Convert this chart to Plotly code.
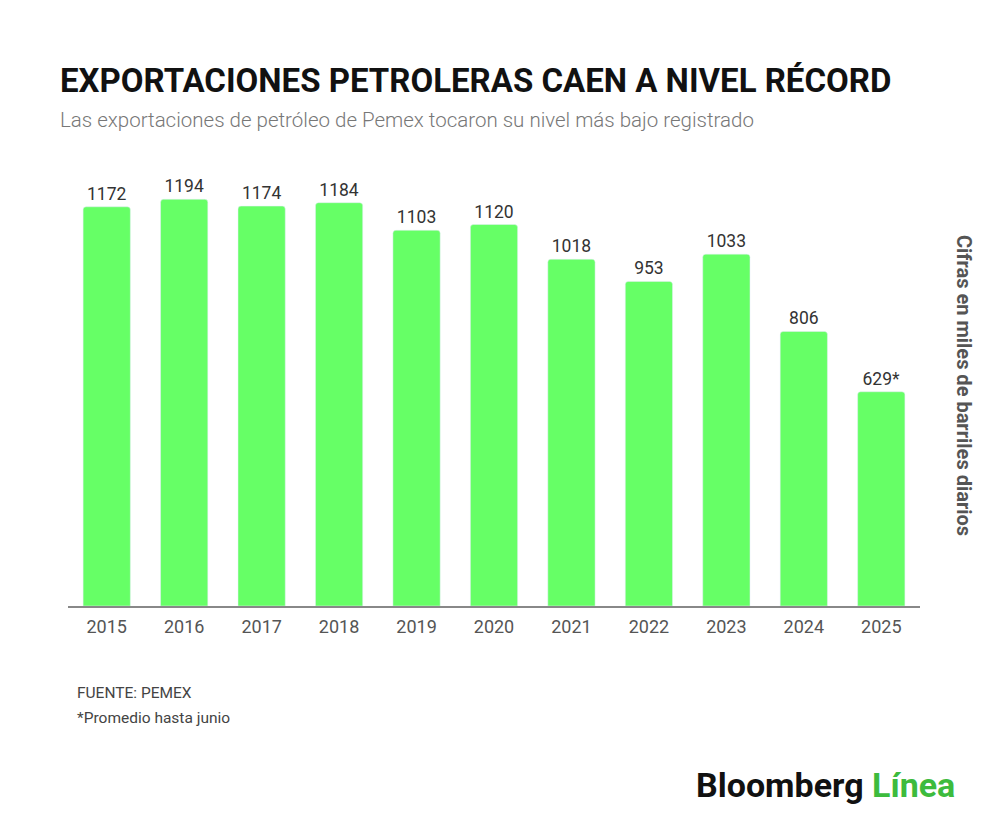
import plotly.graph_objects as go

# datos: exportaciones de Pemex, miles de barriles diarios
years = ["2015", "2016", "2017", "2018", "2019", "2020", "2021", "2022", "2023", "2024", "2025"]
exports = [1172, 1194, 1174, 1184, 1103, 1120, 1018, 953, 1033, 806, 629]
labels = ["1172", "1194", "1174", "1184", "1103", "1120", "1018", "953", "1033", "806", "629*"]

fig = go.Figure(
    data=[
        go.Bar(
            x=years,
            y=exports,
            text=labels,
            textposition="outside",
            cliponaxis=False,
            textfont=dict(family="Roboto", size=17.5, color="#333333"),
            marker=dict(color="#66FF66", cornerradius=3),
            hoverinfo="x+y",
        )
    ]
)

fig.update_layout(
    width=1000,
    height=828,
    paper_bgcolor="white",
    plot_bgcolor="white",
    margin=dict(l=60, r=88, t=162, b=230),
    bargap=0.39,
    showlegend=False,
    font=dict(family="Roboto", color="#444444"),
    xaxis=dict(
        showline=True,
        linecolor="#888888",
        linewidth=1.5,
        ticks="",
        showgrid=False,
        ticklabelstandoff=4,
        tickfont=dict(family="Roboto", size=18, color="#555555"),
    ),
    yaxis=dict(
        range=[0, 1280],
        visible=False,
        showgrid=False,
    ),
)

# titulo y subtitulo
fig.add_annotation(
    text="<b>EXPORTACIONES PETROLERAS CAEN A NIVEL RÉCORD</b>",
    xref="paper", yref="paper", x=-0.012, y=1.0, yanchor="bottom", xanchor="left",
    yshift=68,
    showarrow=False,
    font=dict(family="Roboto", size=33, color="#111111"),
)
fig.add_annotation(
    text="Las exportaciones de petróleo de Pemex tocaron su nivel más bajo registrado",
    xref="paper", yref="paper", x=-0.012, y=1.0, yanchor="bottom", xanchor="left",
    yshift=36,
    showarrow=False,
    font=dict(family="Roboto", size=20.5, color="#777777", weight=300),
)

# titulo del eje a la derecha
fig.add_annotation(
    text="<b>Cifras en miles de barriles diarios</b>",
    xref="paper", yref="paper", x=1.0, y=0.507, xanchor="left", yanchor="middle",
    xshift=30,
    textangle=90,
    showarrow=False,
    font=dict(family="Roboto", size=20, color="#555555"),
)

# notas
fig.add_annotation(
    text="FUENTE: PEMEX",
    xref="paper", yref="paper", x=0.008, y=0, xanchor="left", yanchor="middle",
    yshift=-87,
    showarrow=False,
    font=dict(family="Roboto", size=15.5, color="#444444"),
)
fig.add_annotation(
    text="*Promedio hasta junio",
    xref="paper", yref="paper", x=0.008, y=0, xanchor="left", yanchor="middle",
    yshift=-112,
    showarrow=False,
    font=dict(family="Roboto", size=15.5, color="#444444"),
)

# logo
fig.add_annotation(
    text="<b>Bloomberg</b> <b><span style='color:#3DBB3D'>Línea</span></b>",
    xref="paper", yref="paper", x=1.0, y=0, xanchor="right", yanchor="middle",
    xshift=37, yshift=-179,
    showarrow=False,
    font=dict(family="Roboto", size=34, color="#111111"),
)

fig.write_html("out.html")
